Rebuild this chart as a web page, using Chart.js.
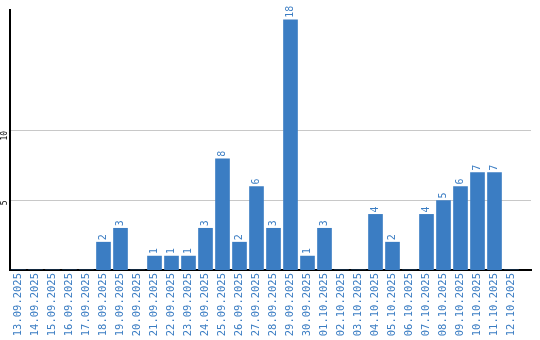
<!DOCTYPE html>
<html>
<head>
<meta charset="utf-8">
<script src="https://cdn.jsdelivr.net/npm/chart.js@4/dist/chart.umd.min.js"></script>
<style>
  html, body { margin: 0; padding: 0; background: #ffffff; }
  #wrap { width: 540px; height: 340px; }
</style>
</head>
<body>
<div id="wrap"><canvas id="c" width="540" height="340"></canvas></div>
<script>
const dates = ["13.09.2025","14.09.2025","15.09.2025","16.09.2025","17.09.2025","18.09.2025","19.09.2025","20.09.2025","21.09.2025","22.09.2025","23.09.2025","24.09.2025","25.09.2025","26.09.2025","27.09.2025","28.09.2025","29.09.2025","30.09.2025","01.10.2025","02.10.2025","03.10.2025","04.10.2025","05.10.2025","06.10.2025","07.10.2025","08.10.2025","09.10.2025","10.10.2025","11.10.2025","12.10.2025"];
const counts = [0,0,0,0,0,2,3,0,1,1,1,3,8,2,6,3,18,1,3,0,0,4,2,0,4,5,6,7,7,0];
const yTicks = [5, 10];

const BLUE = '#3b7dc3';

const valueLabels = {
  id: 'valueLabels',
  afterDatasetsDraw(chart) {
    const ctx = chart.ctx;
    const meta = chart.getDatasetMeta(0);
    ctx.save();
    ctx.fillStyle = BLUE;
    ctx.font = '10px "DejaVu Sans Mono"';
    ctx.textAlign = 'left';
    ctx.textBaseline = 'middle';
    meta.data.forEach((bar, i) => {
      const v = counts[i];
      if (!v) return;
      ctx.save();
      ctx.translate(bar.x, bar.y - 2);
      ctx.rotate(-Math.PI / 2);
      ctx.fillText(String(v), 0, 0);
      ctx.restore();
    });
    ctx.restore();
  }
};

new Chart(document.getElementById('c'), {
  type: 'bar',
  data: {
    datasets: [{
      data: counts.map((v, i) => ({ x: i, y: v })),
      backgroundColor: BLUE,
      borderWidth: 0,
      barThickness: 14
    }]
  },
  options: {
    responsive: false,
    animation: false,
    events: [],
    layout: { padding: { top: 10, right: 9, left: 0, bottom: 0 } },
    plugins: { legend: { display: false }, tooltip: { enabled: false } },
    scales: {
      x: {
        type: 'linear',
        min: -0.5,
        max: 30.147,
        offset: false,
        grid: { display: false, offset: false, drawTicks: false },
        border: { display: true, color: '#000000', width: 2 },
        afterBuildTicks: s => { s.ticks = dates.map((_, i) => ({ value: i })); },
        afterFit: s => { s.height = 70; },
        ticks: {
          autoSkip: false,
          minRotation: 90,
          maxRotation: 90,
          padding: 3,
          color: BLUE,
          font: { family: '"DejaVu Sans Mono"', size: 10.5 },
          callback: v => dates[v] ?? ''
        }
      },
      y: {
        min: 0,
        max: 18.7,
        grid: { color: '#c8c8c8', lineWidth: 1, drawTicks: false },
        border: { display: true, color: '#000000', width: 2 },
        afterBuildTicks: s => { s.ticks = yTicks.map(v => ({ value: v })); },
        afterFit: s => { s.width = 10; },
        ticks: {
          minRotation: 90,
          maxRotation: 90,
          padding: 5,
          color: '#000000',
          font: { family: '"DejaVu Sans Mono"', size: 8 }
        }
      }
    }
  },
  plugins: [valueLabels]
});
</script>
</body>
</html>
